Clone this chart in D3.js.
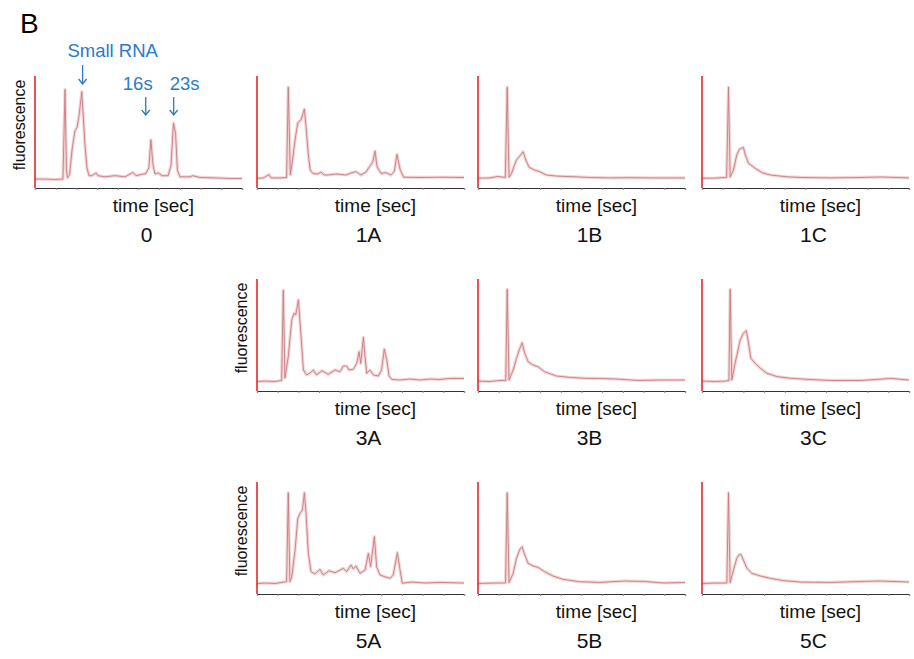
<!DOCTYPE html>
<html>
<head>
<meta charset="utf-8">
<script src="https://cdn.jsdelivr.net/npm/d3@7"></script>
<style>
  body { margin: 0; background: #fff; }
  text { font-family: "Liberation Sans", Arial, sans-serif; }
</style>
</head>
<body>
<div id="chart"></div>
<script>
// electropherogram traces, arbitrary units: time 0-100, fluorescence 0-100
var panelNames = ["0", "1A", "1B", "1C", "3A", "3B", "3C", "5A", "5B", "5C"];

var time0  = [0, 4.8, 9.7, 13.5, 14.5, 15.2, 15.7, 16.7, 17.9, 19.3, 20.3, 21.3, 22.6, 23.4, 24.2, 25.1, 26.1, 27.5, 29.5, 30.4, 33.8, 38.6, 43.5, 47.3, 48.8, 53.6, 55, 56, 57, 58, 59.4, 61.4, 64.3, 65.7, 66.9, 67.9, 68.8, 70, 74.9, 76.3, 79.7, 87, 94.2, 100];
var fluor0 = [8, 8, 7.6, 8, 88, 16, 9, 12, 34, 51, 54, 65, 86, 61, 37, 18, 11, 11, 13.5, 11, 10, 11, 10, 14, 11, 13, 18, 43, 20.5, 12.5, 13.5, 11, 11, 20, 58, 49, 16, 10, 10, 11, 9.4, 9, 8.5, 8.5];

var time1A  = [0, 2.9, 5.8, 6.8, 11.6, 14.3, 15.1, 16.1, 17.2, 18.4, 19.7, 21.3, 22.9, 23.7, 24.8, 25.7, 27.1, 29.5, 30.9, 32.4, 34.3, 38.2, 43, 45.4, 47.8, 50.2, 52.7, 54.3, 55.9, 57, 58, 59.9, 62.3, 64.7, 66.3, 67.6, 69.2, 70.9, 79.2, 88.9, 100];
var fluor1A = [8.7, 8.9, 12, 9, 9, 9.4, 90, 11.6, 25, 43, 58, 61, 70.5, 54.5, 29.5, 16, 13, 12.5, 14.3, 11.6, 11.6, 12.5, 11.6, 13.4, 14.6, 11.6, 14.3, 19, 23, 33, 19, 13, 13.7, 11.6, 14.6, 30, 16, 9.6, 9.4, 9.6, 9.4];

var time1B  = [0, 5.8, 9.6, 13.2, 14.1, 15, 16.2, 17.3, 18.6, 20.2, 21.8, 23.1, 24.7, 27.4, 29.8, 33, 37.8, 42.3, 47.5, 53.8, 63.5, 73, 82.7, 100];
var fluor1B = [8.7, 9, 10.3, 9.4, 90, 9.6, 13, 18.8, 25, 28.6, 32.4, 25, 18.5, 16, 14.6, 11.6, 10.7, 10.3, 10, 9.4, 9, 9.2, 9, 9];

var time1C  = [0, 6.3, 11.9, 12.8, 13.6, 15.2, 16.8, 18.1, 20, 20.9, 22.5, 25.7, 29, 33, 41.1, 47.6, 62.1, 76.7, 86.4, 100];
var fluor1C = [8.7, 8.9, 9.4, 90, 9.8, 16, 29.5, 34.6, 36.3, 29.5, 22, 17.6, 13.7, 11.6, 10, 9.4, 9, 9.4, 9.8, 9];

var time3A  = [0, 3.9, 8.7, 11.9, 12.7, 13.5, 15.1, 16.8, 17.9, 18.7, 20, 21.3, 22.4, 24, 25.6, 27.2, 28.8, 31.3, 34.4, 37.7, 40.1, 41.7, 43.3, 44.4, 46.5, 48.2, 49.3, 50.1, 51.4, 52.2, 53, 54.6, 56.2, 58.6, 60.2, 61.5, 62.7, 63.8, 65.1, 69.1, 73.9, 78.7, 83.6, 88.4, 93.2, 100];
var fluor3A = [8.5, 8.9, 8.5, 9.4, 90, 11.6, 30.6, 63.4, 69.4, 67.9, 81.3, 48.5, 18.8, 14.3, 16, 18.8, 14.3, 18.1, 14.9, 18.8, 17.2, 22.3, 22.3, 18.8, 19.4, 24.7, 35.1, 24.7, 47.9, 30.6, 15.8, 18.8, 14.3, 13.4, 18.8, 37.5, 27.7, 13.4, 10.4, 9.8, 10.7, 9.8, 10.7, 10.3, 11.2, 11.2];

var time3B  = [0, 5.8, 10.6, 13.4, 14.1, 15, 17, 18.6, 20.2, 21.3, 22.6, 24.2, 26.6, 29, 32.2, 37.8, 44.2, 52.3, 58.7, 66.7, 77.9, 87.5, 100];
var fluor3B = [8.9, 8.5, 9.4, 9.4, 90.8, 9.8, 18.8, 29.2, 38.1, 43.1, 33.7, 26.2, 23.2, 21.7, 17.2, 13.4, 12.2, 11.3, 11.2, 10.7, 9.4, 9.8, 9.8];

var time3C  = [0, 6.3, 11.2, 13, 13.6, 14.4, 16, 17.2, 18.4, 20, 21.4, 22.5, 23.6, 25.7, 28.2, 31.4, 36.3, 42.7, 50.8, 62.1, 76.7, 91.3, 100];
var fluor3C = [8.9, 8.5, 8.9, 9.4, 90.8, 9.8, 24.7, 34.8, 45.5, 51.5, 53.8, 42.6, 29.2, 24.7, 20.3, 15.8, 12.8, 11.4, 10.4, 9.4, 9.4, 11.2, 9.8];

var time5A  = [0, 3.9, 8.7, 14.3, 15.1, 15.9, 16.8, 18.4, 19.7, 20.8, 21.9, 22.9, 23.7, 24.8, 26.1, 28, 30.4, 32, 34.8, 37.7, 41.7, 43.3, 45.4, 46.5, 47.8, 49.8, 52.2, 53.8, 54.9, 56.7, 57.8, 59.4, 61.8, 64.3, 65.8, 67.8, 69.1, 70.2, 74.9, 81.2, 88.4, 100];
var fluor5A = [9.4, 9.8, 9.4, 11, 90.4, 11, 15.4, 39.3, 67.6, 72, 75, 90.4, 72, 36.3, 19.9, 17.9, 22, 17, 20.8, 19, 22.9, 19.9, 25.9, 22.3, 25, 18.5, 21.4, 36.3, 24.4, 51.2, 24.4, 17, 15.4, 14, 17, 36.9, 21.4, 9.6, 10.7, 9.8, 10.3, 9.8];

var time5B  = [0, 8.2, 13.3, 14.1, 15, 17, 18.6, 20.2, 21.3, 22.6, 24.2, 26.6, 29, 32.2, 36.2, 41, 49, 58.7, 70.7, 80.3, 89.9, 100];
var fluor5B = [9.4, 9.8, 9.8, 90.4, 10.1, 18.5, 31.9, 39.9, 42.2, 34.8, 27.4, 25, 23.8, 19.9, 16.1, 13.1, 11, 10.3, 11.6, 11.2, 9.8, 10.3];

var time5C  = [0, 6.3, 12, 12.8, 13.6, 15.2, 16.8, 17.8, 18.8, 20, 21.7, 24.1, 28.2, 33, 39.5, 47.6, 62.1, 76.7, 86.4, 100];
var fluor5C = [9.4, 9.8, 9.8, 90.4, 10.1, 21.4, 31.9, 34.8, 35.4, 30.4, 22.9, 18.5, 16.1, 14, 11.9, 10.7, 10.3, 11.2, 11.6, 10.7];

var timeSeries  = [time0, time1A, time1B, time1C, time3A, time3B, time3C, time5A, time5B, time5C];
var fluorSeries = [fluor0, fluor1A, fluor1B, fluor1C, fluor3A, fluor3B, fluor3C, fluor5A, fluor5B, fluor5C];

// peak annotations on panel 0
var peakLabels = ["Small RNA", "16s", "23s"];
var peakTimes = [23, 53.5, 67];

var svgWidth = 914;
var svgHeight = 659;

// grid placement of each panel (column, row)
var colLeft = [35, 257, 478, 702];
var rowTop = [76, 279, 482];
var panelPos = [[0, 0], [1, 0], [2, 0], [3, 0], [1, 1], [2, 1], [3, 1], [1, 2], [2, 2], [3, 2]];
var pw = 207, ph = 112;
var showYLabel = ["0", "3A", "5A"];

var svg = d3.select("#chart")
  .append("svg")
  .attr("width", svgWidth)
  .attr("height", svgHeight);

svg.append("text")
  .attr("x", 20)
  .attr("y", 33)
  .attr("font-size", 28)
  .text("B");

var x = d3.scaleLinear().domain([0, 100]).range([0, pw]);
var y = d3.scaleLinear().domain([0, 100]).range([ph, 0]);

var line = d3.line()
  .x(function(d) { return x(d[0]); })
  .y(function(d) { return y(d[1]); });

panelNames.forEach(function(name, i) {
  var pos = panelPos[i];
  var g = svg.append("g")
    .attr("transform", "translate(" + colLeft[pos[0]] + "," + rowTop[pos[1]] + ")");

  var pts = d3.zip(timeSeries[i], fluorSeries[i]);

  // soft halo then the trace itself
  g.append("path")
    .datum(pts)
    .attr("d", line)
    .attr("fill", "none")
    .attr("stroke", "#f3d6d6")
    .attr("stroke-width", 3.2)
    .attr("stroke-linejoin", "round");
  g.append("path")
    .datum(pts)
    .attr("d", line)
    .attr("fill", "none")
    .attr("stroke", "#c97b80")
    .attr("stroke-width", 0.9)
    .attr("stroke-linejoin", "round");

  // x axis with tiny ticks
  var xAxis = g.append("g")
    .attr("transform", "translate(0," + ph + ")")
    .call(d3.axisBottom(x).ticks(9).tickSize(2).tickFormat(""));
  xAxis.select(".domain").attr("stroke", "#333").attr("stroke-width", 1.2);
  xAxis.selectAll(".tick line").attr("stroke", "#888");

  // red y axis
  g.append("line")
    .attr("x1", 0).attr("x2", 0)
    .attr("y1", 0).attr("y2", ph)
    .attr("stroke", "#e8262b")
    .attr("stroke-width", 1.6);

  g.append("text")
    .attr("x", pw / 2 + 15)
    .attr("y", ph + 24)
    .attr("text-anchor", "middle")
    .attr("font-size", 19)
    .attr("fill", "#111")
    .text("time [sec]");

  g.append("text")
    .attr("x", pw / 2 + 8)
    .attr("y", ph + 54)
    .attr("text-anchor", "middle")
    .attr("font-size", 21)
    .attr("fill", "#111")
    .text(name);

  if (showYLabel.indexOf(name) >= 0) {
    g.append("text")
      .attr("transform", "translate(-10," + (ph / 2 - 7) + ") rotate(-90)")
      .attr("text-anchor", "middle")
      .attr("font-size", 16)
      .attr("fill", "#111")
      .text("fluorescence");
  }

  if (i === 0) {
    var blue = "#2a7bc6";
    var labelDx = [30, -8, 11];
    var labelY = [-19, 14, 14];
    var arrowTop = [-11, 21, 21];
    var arrowBot = [8, 39, 39];
    peakLabels.forEach(function(lbl, k) {
      var ax = x(peakTimes[k]);
      g.append("text")
        .attr("x", ax + labelDx[k])
        .attr("y", labelY[k])
        .attr("text-anchor", "middle")
        .attr("font-size", 18.5)
        .attr("fill", blue)
        .text(lbl);
      g.append("line")
        .attr("x1", ax).attr("x2", ax)
        .attr("y1", arrowTop[k]).attr("y2", arrowBot[k])
        .attr("stroke", blue).attr("stroke-width", 1.3);
      g.append("path")
        .attr("d", "M" + (ax - 4) + "," + (arrowBot[k] - 5) + "L" + ax + "," + arrowBot[k] + "L" + (ax + 4) + "," + (arrowBot[k] - 5))
        .attr("fill", "none")
        .attr("stroke", blue)
        .attr("stroke-width", 1.3);
    });
  }
});
</script>
</body>
</html>
